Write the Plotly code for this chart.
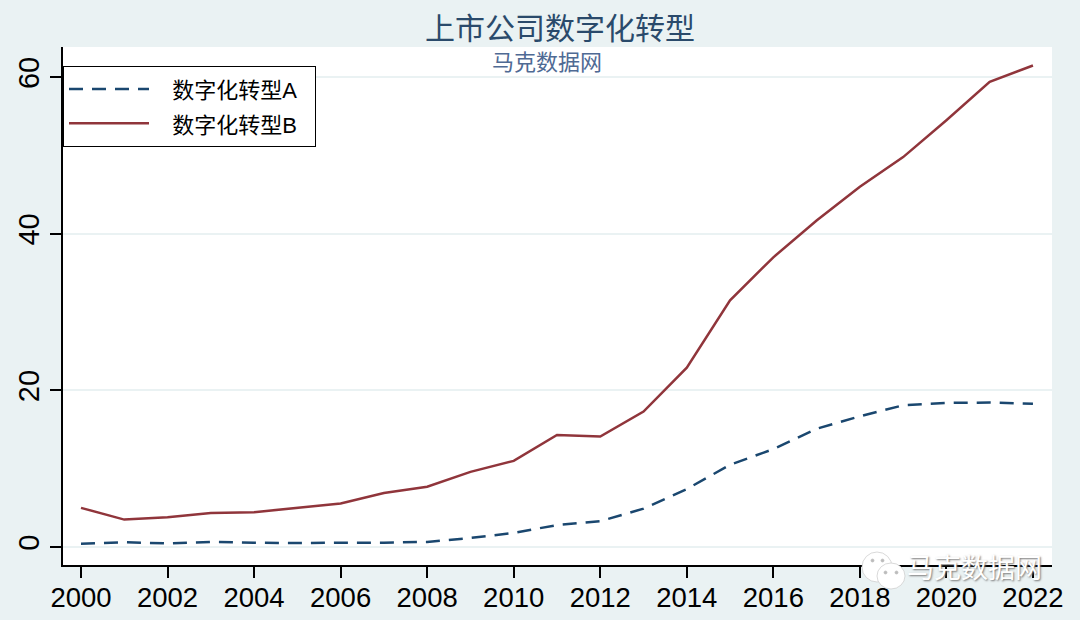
import plotly.graph_objects as go

years = list(range(2000, 2023))
digital_a = [0.4, 0.6, 0.45, 0.65, 0.55, 0.5, 0.55, 0.55, 0.65, 1.15, 1.8, 2.8,
             3.3, 4.9, 7.4, 10.5, 12.5, 15.1, 16.7, 18.1, 18.4, 18.45, 18.3]
digital_b = [5.0, 3.5, 3.8, 4.35, 4.45, 5.0, 5.55, 6.9, 7.7, 9.6, 11.0, 14.3,
             14.1, 17.3, 22.9, 31.5, 37.0, 41.7, 46.0, 49.8, 54.5, 59.4, 61.5]
x_ticks = list(range(2000, 2023, 2))
y_ticks = [0, 20, 40, 60]

bg = '#eaf2f3'
navy = '#1a476f'
maroon = '#90353b'
font_family = 'Liberation Sans, Noto Sans CJK SC'
W, H = 1080, 620


# watermark logo sits in pixel positions, so convert to paper coords
def px_x(v):
    return (v - 63) / (1052 - 63)


def px_y(v):
    return (565 - v) / (565 - 47)


def blob(x0, y0, x1, y1, fill='white', line='#c8c8c8'):
    return dict(type='circle', xref='paper', yref='paper', layer='above',
                x0=px_x(x0), x1=px_x(x1), y0=px_y(y1), y1=px_y(y0),
                fillcolor=fill, line=dict(color=line, width=0.7))


# legend rows get their height from the legend font, the span keeps the text smaller
# the nbsp padding sets the gap after the key and the box's right edge
def legend_name(text):
    return f'<span style="font-size:22px">&nbsp;&nbsp;&nbsp;{text}&nbsp;&nbsp;</span>'


fig = go.Figure()
fig.add_trace(go.Scatter(x=years, y=digital_a, mode='lines', name=legend_name('数字化转型A'),
                         line=dict(color=navy, width=2.5, dash='14px,9px')))
fig.add_trace(go.Scatter(x=years, y=digital_b, mode='lines', name=legend_name('数字化转型B'),
                         line=dict(color=maroon, width=2.5)))

fig.update_layout(
    width=W,
    height=H,
    autosize=False,
    margin=dict(l=63, r=28, t=47, b=55),
    paper_bgcolor=bg,
    plot_bgcolor='white',
    font_family=font_family,
    font_color='black',
    title=dict(text='上市公司数字化转型', x=560 / W, xanchor='center', y=1 - 28 / H,
               yanchor='middle', font=dict(size=30, color='#2a4a6b')),
    xaxis=dict(range=[1999.584, 2022.44], tickvals=x_ticks, ticks='outside', ticklen=11,
               tickwidth=1.5, tickcolor='black', showgrid=False, zeroline=False,
               showline=True, linecolor='black', linewidth=1.5, automargin=False,
               ticklabelstandoff=-4, tickfont=dict(size=27.5, color='black')),
    yaxis=dict(range=[-2.3, 63.86], tickvals=y_ticks, ticks='outside', ticklen=11,
               tickwidth=1.5, tickcolor='black', tickangle=-90, gridcolor=bg, gridwidth=2,
               zeroline=False, showline=True, linecolor='black', linewidth=1.5, automargin=False,
               tickfont=dict(size=29, color='black')),
    legend=dict(x=0, y=px_y(66), xanchor='left', yanchor='top', bgcolor='white',
                bordercolor='black', borderwidth=1, itemwidth=80,
                font=dict(size=24, color='black'), tracegroupgap=0),
    shapes=[
        blob(862, 552, 892, 582),
        blob(877, 563, 905, 589),
        blob(871, 559, 874, 562, fill='#bbbbbb', line='#bbbbbb'),
        blob(881, 559, 884, 562, fill='#bbbbbb', line='#bbbbbb'),
        blob(884, 571, 887, 574, fill='#bbbbbb', line='#bbbbbb'),
        blob(895, 571, 898, 574, fill='#bbbbbb', line='#bbbbbb'),
    ],
    annotations=[
        dict(text='马克数据网', xref='paper', yref='paper', x=px_x(547), y=px_y(62),
             showarrow=False, xanchor='center', yanchor='middle',
             font=dict(size=22, color='#4f6a94')),
        dict(text='马克数据网', xref='paper', yref='paper', x=px_x(974), y=px_y(569),
             showarrow=False, xanchor='center', yanchor='middle',
             font=dict(size=27, color='white', shadow='1px 1px 2px #777777')),
    ],
)

fig.write_html('out.html', config={'displayModeBar': False},
               post_script="document.body.style.margin='0';")
